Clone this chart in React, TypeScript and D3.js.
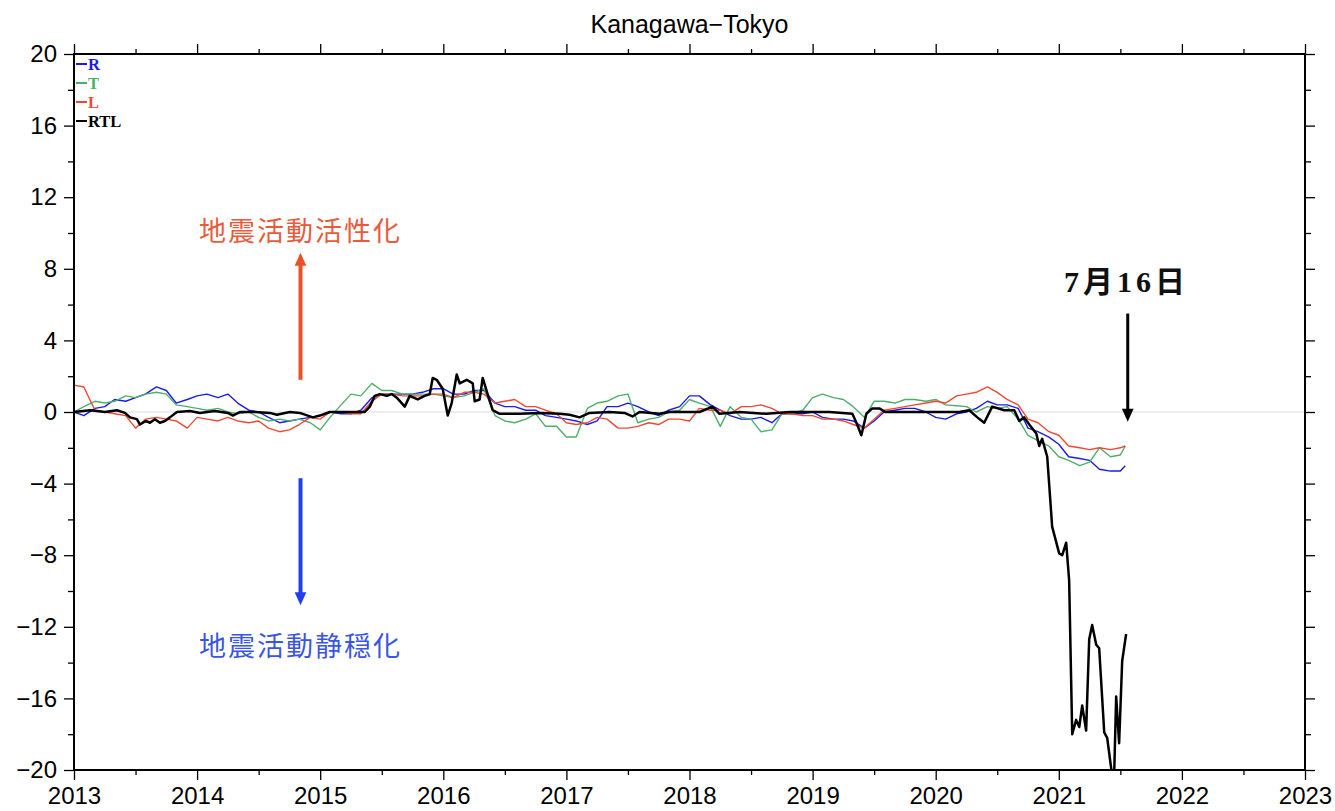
import React, { useRef, useEffect } from "react";
import * as d3 from "d3";

// monthly samples (decimal years), last one is 2021-07-16
const dates = [
  2013.00, 2013.08, 2013.17, 2013.25, 2013.33, 2013.42, 2013.50, 2013.58, 2013.67, 2013.75, 2013.83, 2013.92,
  2014.00, 2014.08, 2014.17, 2014.25, 2014.33, 2014.42, 2014.50, 2014.58, 2014.67, 2014.75, 2014.83, 2014.92,
  2015.00, 2015.08, 2015.17, 2015.25, 2015.33, 2015.42, 2015.50, 2015.58, 2015.67, 2015.75, 2015.83, 2015.92,
  2016.00, 2016.08, 2016.17, 2016.25, 2016.33, 2016.42, 2016.50, 2016.58, 2016.67, 2016.75, 2016.83, 2016.92,
  2017.00, 2017.08, 2017.17, 2017.25, 2017.33, 2017.42, 2017.50, 2017.58, 2017.67, 2017.75, 2017.83, 2017.92,
  2018.00, 2018.08, 2018.17, 2018.25, 2018.33, 2018.42, 2018.50, 2018.58, 2018.67, 2018.75, 2018.83, 2018.92,
  2019.00, 2019.08, 2019.17, 2019.25, 2019.33, 2019.42, 2019.50, 2019.58, 2019.67, 2019.75, 2019.83, 2019.92,
  2020.00, 2020.08, 2020.17, 2020.25, 2020.33, 2020.42, 2020.50, 2020.58, 2020.67, 2020.75, 2020.83, 2020.92,
  2021.00, 2021.08, 2021.17, 2021.25, 2021.33, 2021.42, 2021.50, 2021.54,
];

const rValues = [
  0.0, -0.2, 0.2, 0.3, 0.7, 0.6, 0.8, 1.0, 1.4, 1.2, 0.5, 0.7,
  0.9, 1.0, 0.8, 1.0, 0.5, 0.1, 0.0, -0.3, -0.6, -0.5, -0.4, -0.3,
  -0.2, 0.0, -0.1, -0.1, 0.1, 0.8, 1.0, 1.0, 1.0, 1.0, 1.1, 1.3,
  1.3, 1.0, 1.0, 1.2, 1.2, 0.5, 0.3, 0.3, 0.1, 0.1, -0.2, -0.3,
  -0.4, -0.5, -0.7, -0.5, 0.3, 0.3, 0.5, 0.3, 0.0, -0.2, 0.1, 0.3,
  0.9, 0.9, 0.4, 0.1, -0.2, -0.4, -0.4, -0.3, -0.6, -0.1, -0.1, -0.1,
  0.0, -0.3, -0.4, -0.4, -0.5, -0.9, -0.5, 0.0, 0.1, 0.2, 0.2, 0.0,
  -0.3, -0.4, -0.1, 0.0, 0.2, 0.6, 0.4, 0.4, 0.2, -0.9, -1.1, -1.4,
  -1.8, -2.5, -2.6, -2.7, -3.2, -3.3, -3.3, -3.0,
];

const tValues = [
  0.0, 0.3, 0.6, 0.5, 0.6, 0.9, 0.8, 1.0, 1.1, 1.0, 0.4, 0.3,
  0.2, 0.1, 0.2, 0.0, -0.1, 0.0, -0.3, -0.5, -0.4, -0.5, -0.4, -0.6,
  -1.0, -0.3, 0.4, 1.0, 0.9, 1.6, 1.2, 1.2, 1.0, 1.0, 1.0, 1.0,
  0.9, 0.8, 0.9, 1.1, 1.3, -0.2, -0.5, -0.6, -0.4, -0.1, -0.8, -0.8,
  -1.4, -1.4, 0.2, 0.5, 0.6, 0.9, 1.0, -0.6, -0.4, -0.3, 0.0, 0.1,
  0.7, 0.5, 0.3, -0.8, 0.3, -0.3, -0.4, -1.1, -1.0, -0.1, -0.1, 0.1,
  0.8, 1.0, 0.8, 0.7, 0.3, -0.3, 0.6, 0.6, 0.5, 0.7, 0.7, 0.6,
  0.7, 0.4, 0.35, 0.3, 0.0, 0.3, 0.2, 0.3, -0.4, -1.3, -1.6, -1.9,
  -2.5, -2.7, -3.0, -2.8, -2.0, -2.5, -2.4, -1.9,
];

const lValues = [
  1.5, 1.4, 0.1, 0.0, -0.1, -0.2, -0.9, -0.4, -0.3, -0.4, -0.5, -0.9,
  -0.3, -0.4, -0.5, -0.3, -0.5, -0.6, -0.5, -0.9, -1.1, -1.0, -0.7, -0.3,
  -0.4, 0.0, 0.0, -0.1, -0.1, 0.6, 1.0, 1.0, 0.9, 0.9, 0.9, 1.0,
  1.0, 0.8, 1.1, 1.1, 1.0, 0.5, 0.6, 0.7, 0.3, 0.3, 0.1, -0.1,
  -0.6, -0.7, -0.6, -0.3, -0.4, -0.9, -0.9, -0.8, -0.6, -0.7, -0.4, -0.4,
  -0.5, 0.2, 0.1, 0.1, -0.1, 0.3, 0.3, 0.4, 0.2, -0.1, -0.1, -0.2,
  -0.2, -0.4, -0.4, -0.5, -0.7, -0.9, -0.4, 0.1, 0.2, 0.3, 0.4, 0.5,
  0.6, 0.5, 0.9, 1.0, 1.1, 1.4, 1.1, 0.7, 0.4, -0.4, -0.6, -1.1,
  -1.3, -1.9, -2.0, -2.1, -2.0, -2.1, -2.0, -1.9,
];

// RTL has sharper features, so its own sample dates
const rtlDates = [
  2013.000, 2013.130, 2013.252, 2013.349, 2013.414, 2013.455, 2013.511, 2013.536, 2013.584, 2013.617,
  2013.657, 2013.698, 2013.739, 2013.779, 2013.836, 2013.942, 2014.023, 2014.144, 2014.250, 2014.291,
  2014.347, 2014.469, 2014.591, 2014.648, 2014.753, 2014.834, 2014.899, 2014.940, 2014.997, 2015.078,
  2015.240, 2015.362, 2015.403, 2015.443, 2015.484, 2015.541, 2015.581, 2015.622, 2015.687, 2015.727,
  2015.792, 2015.849, 2015.890, 2015.914, 2015.946, 2015.995, 2016.036, 2016.068, 2016.109, 2016.133,
  2016.190, 2016.239, 2016.255, 2016.295, 2016.320, 2016.360, 2016.401, 2016.458, 2016.620, 2016.782,
  2016.945, 2017.026, 2017.107, 2017.188, 2017.351, 2017.472, 2017.537, 2017.594, 2017.756, 2017.838,
  2018.081, 2018.187, 2018.244, 2018.406, 2018.625, 2018.812, 2019.136, 2019.323, 2019.356, 2019.396,
  2019.437, 2019.485, 2019.542, 2019.591, 2019.867, 2020.192, 2020.273, 2020.338, 2020.394, 2020.459,
  2020.557, 2020.638, 2020.679, 2020.719, 2020.760, 2020.817, 2020.841, 2020.865, 2020.906, 2020.946,
  2021.003, 2021.028, 2021.060, 2021.084, 2021.109, 2021.141, 2021.166, 2021.190, 2021.222, 2021.247,
  2021.271, 2021.304, 2021.328, 2021.369, 2021.393, 2021.433, 2021.450, 2021.466, 2021.490, 2021.515,
  2021.547,
];

const rtlValues = [
  0.0, 0.1, 0.0, 0.1, -0.05, -0.3, -0.4, -0.7, -0.5, -0.6,
  -0.4, -0.6, -0.5, -0.3, 0.0, 0.05, -0.05, 0.05, -0.05, -0.2,
  0.0, 0.0, -0.05, -0.15, 0.0, -0.05, -0.2, -0.3, -0.2, 0.0,
  0.0, 0.0, 0.3, 0.9, 1.0, 0.9, 1.0, 0.8, 0.3, 0.9,
  0.7, 0.9, 1.0, 1.9, 1.8, 1.3, -0.2, 0.5, 2.1, 1.6,
  1.8, 1.6, 0.6, 0.7, 1.9, 1.0, 0.1, -0.1, -0.1, -0.05,
  -0.1, -0.15, -0.3, -0.05, 0.0, -0.05, -0.25, 0.0, -0.1, 0.0,
  0.0, 0.3, -0.1, 0.0, -0.1, 0.0, 0.0, -0.1, -0.6, -1.3,
  -0.1, 0.2, 0.2, 0.0, 0.0, 0.0, 0.1, -0.3, -0.6, 0.3,
  0.1, 0.1, -0.5, -0.3, -0.7, -1.2, -1.9, -1.5, -2.5, -6.4,
  -7.9, -8.0, -7.3, -9.4, -18.0, -17.2, -17.6, -16.4, -17.8, -12.7,
  -11.9, -13.0, -13.2, -17.9, -18.2, -20.3, -20.2, -15.9, -18.5, -13.9,
  -12.4,
];

const yearTicks = [2013, 2014, 2015, 2016, 2017, 2018, 2019, 2020, 2021, 2022, 2023];
const valueTicks = [-20, -16, -12, -8, -4, 0, 4, 8, 12, 16, 20];

const series = [
  { key: "R", values: rValues, color: "#1c1ce8" },
  { key: "T", values: tValues, color: "#4fae6c" },
  { key: "L", values: lValues, color: "#ec4a34" },
];

const width = 1335;
const height = 811;
const margin = { left: 74, right: 30, top: 54, bottom: 41 };

const App = () => {
  const container = useRef(null);

  useEffect(() => {
    const svg = d3.select(container.current);
    svg.selectAll("*").remove();

    const x = d3.scaleLinear().domain([2013, 2023]).range([margin.left, width - margin.right]);
    const y = d3.scaleLinear().domain([-20, 20]).range([height - margin.bottom, margin.top]);
    const [x0, x1] = x.range();
    const [y0, y1] = y.range();

    svg.append("defs").append("clipPath").attr("id", "plot-clip")
      .append("rect").attr("x", x0).attr("y", y1).attr("width", x1 - x0).attr("height", y0 - y1);

    // zero line
    svg.append("line")
      .attr("x1", x0).attr("x2", x1).attr("y1", y(0)).attr("y2", y(0))
      .attr("stroke", "#dcdcdc").attr("stroke-width", 1.2);

    const line = d3.line().x(d => x(d[0])).y(d => y(d[1]));
    const plot = svg.append("g").attr("clip-path", "url(#plot-clip)");

    series.forEach(s => {
      plot.append("path")
        .datum(dates.map((d, i) => [d, s.values[i]]))
        .attr("d", line)
        .attr("fill", "none")
        .attr("stroke", s.color)
        .attr("stroke-width", 1.4)
        .attr("stroke-linejoin", "round");
    });

    plot.append("path")
      .datum(rtlDates.map((d, i) => [d, rtlValues[i]]))
      .attr("d", line)
      .attr("fill", "none")
      .attr("stroke", "#000")
      .attr("stroke-width", 2.5)
      .attr("stroke-linejoin", "round");

    // axes: major + minor ticks on all four sides
    const minorYears = d3.range(2013.5, 2023, 1);
    const minorValues = d3.range(-18, 20, 4);
    const tickFont = (g) => g.selectAll("text")
      .style("font-family", "'Liberation Sans', Arial, sans-serif")
      .style("font-size", "24px")
      .attr("fill", "#000");

    const addAxis = (axis, tf) => {
      const g = svg.append("g").attr("transform", tf).call(axis);
      g.select(".domain").remove();
      g.selectAll("line").attr("stroke", "#000").attr("stroke-width", 1.3);
      tickFont(g);
      return g;
    };

    addAxis(d3.axisBottom(x).tickValues(yearTicks).tickFormat(d3.format("d")).tickSize(10).tickPadding(7), `translate(0,${y0})`);
    addAxis(d3.axisBottom(x).tickValues(minorYears).tickFormat(() => "").tickSize(5), `translate(0,${y0})`);
    addAxis(d3.axisTop(x).tickValues(yearTicks).tickFormat(() => "").tickSize(10), `translate(0,${y1})`);
    addAxis(d3.axisTop(x).tickValues(minorYears).tickFormat(() => "").tickSize(5), `translate(0,${y1})`);
    addAxis(d3.axisLeft(y).tickValues(valueTicks).tickSize(10).tickPadding(7), `translate(${x0},0)`);
    addAxis(d3.axisLeft(y).tickValues(minorValues).tickFormat(() => "").tickSize(6), `translate(${x0},0)`);
    addAxis(d3.axisRight(y).tickValues(valueTicks).tickFormat(() => "").tickSize(10), `translate(${x1},0)`);
    addAxis(d3.axisRight(y).tickValues(minorValues).tickFormat(() => "").tickSize(6), `translate(${x1},0)`);

    // frame
    svg.append("rect")
      .attr("x", x0).attr("y", y1).attr("width", x1 - x0).attr("height", y0 - y1)
      .attr("fill", "none").attr("stroke", "#000").attr("stroke-width", 2);

    // title
    svg.append("text")
      .attr("x", (x0 + x1) / 2).attr("y", 33)
      .attr("text-anchor", "middle")
      .style("font-family", "'Liberation Sans', Arial, sans-serif")
      .style("font-size", "25px")
      .text("Kanagawa\u2212Tokyo");

    // legend
    const legendKeys = [...series.map(s => ({ key: s.key, color: s.color })), { key: "RTL", color: "#000" }];
    const legend = svg.append("g");
    legendKeys.forEach((d, i) => {
      const ly = 64 + i * 19;
      legend.append("line")
        .attr("x1", x0 + 2).attr("x2", x0 + 13).attr("y1", ly).attr("y2", ly)
        .attr("stroke", d.color).attr("stroke-width", 2);
      legend.append("text")
        .attr("x", x0 + 14).attr("y", ly + 6)
        .attr("fill", d.color)
        .style("font-family", "'Liberation Serif', 'Times New Roman', serif")
        .style("font-weight", "bold")
        .style("font-size", "16.5px")
        .style("transform-box", "fill-box")
        .text(d.key);
    });

    // annotations
    const addArrow = (xv, fromV, toV, color, w, head) => {
      const ax = x(xv), ya = y(fromV), yb = y(toV);
      const dir = yb < ya ? 1 : -1;
      svg.append("line")
        .attr("x1", ax).attr("x2", ax).attr("y1", ya).attr("y2", yb + dir * head * 0.9)
        .attr("stroke", color).attr("stroke-width", w);
      svg.append("path")
        .attr("d", `M${ax},${yb} L${ax - head * 0.45},${yb + dir * head} L${ax + head * 0.45},${yb + dir * head} Z`)
        .attr("fill", color);
    };

    const jpFont = "'Noto Sans CJK JP', 'Noto Sans', sans-serif";
    svg.append("text")
      .attr("x", x(2014.84)).attr("y", y(9.55))
      .attr("text-anchor", "middle").attr("fill", "#e85a3c")
      .style("font-family", jpFont).style("font-size", "27px").style("letter-spacing", "2px")
      .text("地震活動活性化");
    addArrow(2014.84, 1.8, 8.9, "#ea5128", 4, 13);

    svg.append("text")
      .attr("x", x(2014.84)).attr("y", y(-13.65))
      .attr("text-anchor", "middle").attr("fill", "#3a55e2")
      .style("font-family", jpFont).style("font-size", "27px").style("letter-spacing", "2px")
      .text("地震活動静穏化");
    addArrow(2014.84, -3.7, -10.8, "#1e3ef0", 4, 13);

    svg.append("text")
      .attr("x", x(2021.55)).attr("y", y(6.7))
      .attr("text-anchor", "middle").attr("fill", "#111")
      .style("font-family", "'Liberation Serif', 'Noto Sans CJK JP', serif")
      .style("font-weight", "bold").style("font-size", "30px").style("letter-spacing", "4px")
      .text("7月16日");
    addArrow(2021.56, 5.5, -0.55, "#000", 3, 13);
  }, []);

  return (
    <div style={{ position: "absolute", left: 0, top: 0, width, height, background: "#fff" }}>
      <svg ref={container} width={width} height={height} style={{ display: "block" }} />
    </div>
  );
};

export default App;
